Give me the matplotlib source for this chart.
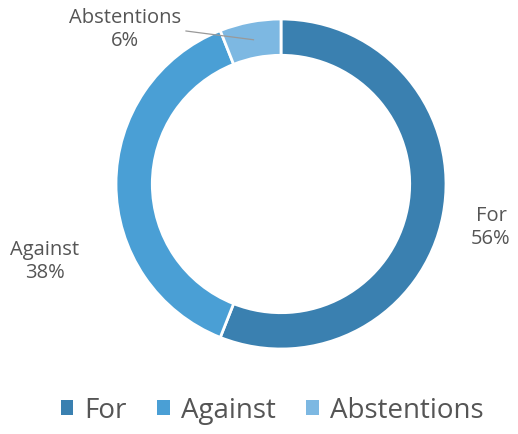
import matplotlib
matplotlib.use("Agg")
import matplotlib.pyplot as plt
from matplotlib.patches import Patch
import numpy as np

categories = ["For", "Against", "Abstentions"]
values = [56, 38, 6]
colors = ["#3a80b0", "#4a9fd5", "#7db8e2"]

plt.rcParams['font.family'] = ['Open Sans', 'DejaVu Sans']
W, H = 518, 435
fig = plt.figure(figsize=(W/100, H/100), dpi=100)
ax = fig.add_axes([0, 0, 1, 1])
cx, cy, R = 281, 185, 165

wedges, _ = ax.pie(values, colors=colors, startangle=90, counterclock=False,
                   radius=1, wedgeprops=dict(width=0.22, edgecolor='white', linewidth=2))
ax.set_aspect('auto')
ax.set_xlim(-cx/R, (W-cx)/R)
ax.set_ylim(-(H-cy)/R, cy/R)
ax.axis('off')

def px(x, y):
    return ((x-cx)/R, (cy-y)/R)

tc = '#555555'
fs = 14.5
ax.text(*px(491, 228), f"{categories[0]}\n{values[0]}%", ha='center', va='center', fontsize=fs, color=tc, linespacing=1.2)
ax.text(*px(45, 262), f"{categories[1]}\n{values[1]}%", ha='center', va='center', fontsize=fs, color=tc, linespacing=1.2)
ax.text(*px(125, 30), f"{categories[2]}\n{values[2]}%", ha='center', va='center', fontsize=fs, color=tc, linespacing=1.2)

# leader line for Abstentions
w = wedges[2]
mid = np.deg2rad((w.theta1 + w.theta2) / 2)
rm = 0.89
x1, y1 = px(186, 32)
ax.plot([x1, rm*np.cos(mid)], [y1, rm*np.sin(mid)], color='#999999', lw=0.9)

handles = [Patch(facecolor=c, edgecolor='none') for c in colors]
leg = fig.legend(handles, categories, loc='center', bbox_to_anchor=(272/W, 1-411/H), ncol=3,
                 frameon=False, fontsize=20, handlelength=0.45, handleheight=0.45,
                 handletextpad=0.4, columnspacing=1.1)
for t in leg.get_texts():
    t.set_color(tc)

fig.savefig("out.png", dpi=100)
